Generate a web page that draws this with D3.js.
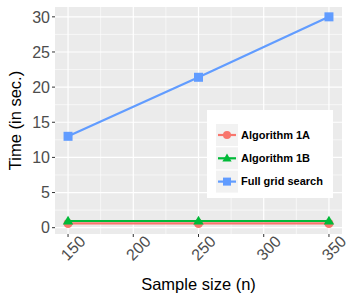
<!DOCTYPE html>
<html><head><meta charset="utf-8">
<script src="https://cdn.jsdelivr.net/npm/d3@7"></script>
<style>body{margin:0;background:#fff}svg{display:block}</style>
</head><body>
<script>
const sampleSizes = [150, 250, 350];
const algo1A = [0.6, 0.6, 0.6];
const algo1B = [0.95, 0.95, 0.95];
const fullGrid = [13, 21.4, 30];
const seriesNames = ["Algorithm 1A", "Algorithm 1B", "Full grid search"];
const xTicks = [150, 200, 250, 300, 350];
const yTicks = [0, 5, 10, 15, 20, 25, 30];

const series = [
  {name: seriesNames[0], values: algo1A, color: "#F8766D", shape: "circle"},
  {name: seriesNames[1], values: algo1B, color: "#00BA38", shape: "triangle"},
  {name: seriesNames[2], values: fullGrid, color: "#619CFF", shape: "square"}
];

const W = 350, H = 300;
const svg = d3.select("body").append("svg").attr("width", W).attr("height", H);
const L = 55, R = 342, T = 7, B = 234;
const FONT = "Liberation Sans, Arial, sans-serif";

const x = d3.scaleLinear().domain([140, 360]).range([L, R]);
const y = d3.scaleLinear().domain([-0.9, 31.4]).range([B, T]);

svg.append("rect").attr("x", L).attr("y", T).attr("width", R - L).attr("height", B - T).attr("fill", "#EBEBEB");

const g = svg.append("g");
const xMinor = [175, 225, 275, 325];
const yMinor = [2.5, 7.5, 12.5, 17.5, 22.5, 27.5];
g.selectAll(".xm").data(xMinor).enter().append("line")
  .attr("x1", d => x(d)).attr("x2", d => x(d)).attr("y1", T).attr("y2", B)
  .attr("stroke", "#fff").attr("stroke-width", 0.6);
g.selectAll(".ym").data(yMinor).enter().append("line")
  .attr("y1", d => y(d)).attr("y2", d => y(d)).attr("x1", L).attr("x2", R)
  .attr("stroke", "#fff").attr("stroke-width", 0.6);
g.selectAll(".xM").data(xTicks).enter().append("line")
  .attr("x1", d => x(d)).attr("x2", d => x(d)).attr("y1", T).attr("y2", B)
  .attr("stroke", "#fff").attr("stroke-width", 1.2);
g.selectAll(".yM").data(yTicks).enter().append("line")
  .attr("y1", d => y(d)).attr("y2", d => y(d)).attr("x1", L).attr("x2", R)
  .attr("stroke", "#fff").attr("stroke-width", 1.2);

svg.selectAll(".yt").data(yTicks).enter().append("line")
  .attr("x1", L - 3).attr("x2", L).attr("y1", d => y(d)).attr("y2", d => y(d))
  .attr("stroke", "#333").attr("stroke-width", 1);
svg.selectAll(".ytl").data(yTicks).enter().append("text")
  .attr("x", L - 5).attr("y", d => y(d)).attr("dy", "0.36em")
  .attr("text-anchor", "end").attr("font-family", FONT)
  .attr("font-size", 16).attr("fill", "#4D4D4D").text(d => d);
svg.selectAll(".xt").data(xTicks).enter().append("line")
  .attr("y1", B).attr("y2", B + 3).attr("x1", d => x(d)).attr("x2", d => x(d))
  .attr("stroke", "#333").attr("stroke-width", 1);
svg.selectAll(".xtl").data(xTicks).enter().append("text")
  .attr("transform", d => `translate(${x(d) + 5},${B + 14}) rotate(-45)`)
  .attr("text-anchor", "middle").attr("dy", "0.35em")
  .attr("font-family", FONT)
  .attr("font-size", 16).attr("fill", "#4D4D4D").text(d => d);

svg.append("text").attr("x", (L + R) / 2).attr("y", 290).attr("text-anchor", "middle")
  .attr("font-family", FONT).attr("font-size", 16.5)
  .attr("fill", "#000").text("Sample size (n)");
svg.append("text").attr("transform", `translate(21,${(T + B) / 2}) rotate(-90)`)
  .attr("text-anchor", "middle")
  .attr("font-family", FONT).attr("font-size", 16.5)
  .attr("fill", "#000").text("Time (in sec.)");

const line = d3.line().x((d, i) => x(sampleSizes[i])).y(d => y(d));
function drawShape(sel, shape, color, cx, cy, s) {
  if (shape === "circle") sel.append("circle").attr("cx", cx).attr("cy", cy).attr("r", s * 0.5).attr("fill", color);
  else if (shape === "square") sel.append("rect").attr("x", cx - s / 2).attr("y", cy - s / 2).attr("width", s).attr("height", s).attr("fill", color);
  else {
    const h = s * 0.95;
    sel.append("path").attr("d", `M${cx},${cy - h * 0.62}L${cx + s * 0.58},${cy + h * 0.42}L${cx - s * 0.58},${cy + h * 0.42}Z`).attr("fill", color);
  }
}
series.forEach(s => {
  svg.append("path").datum(s.values).attr("d", line).attr("fill", "none")
    .attr("stroke", s.color).attr("stroke-width", 2.2);
  s.values.forEach((v, i) => drawShape(svg, s.shape, s.color, x(sampleSizes[i]), y(v), 9));
});

const lg = svg.append("g");
lg.append("rect").attr("x", 207).attr("y", 110).attr("width", 126).attr("height", 88).attr("fill", "#fff");
series.forEach((s, i) => {
  const cy = 135 + i * 23.3;
  lg.append("rect").attr("x", 216).attr("y", cy - 11).attr("width", 22).attr("height", 22).attr("fill", "#F2F2F2");
  lg.append("line").attr("x1", 218).attr("x2", 236).attr("y1", cy).attr("y2", cy).attr("stroke", s.color).attr("stroke-width", 2.2);
  drawShape(lg, s.shape, s.color, 227, cy, 8);
  lg.append("text").attr("x", 241).attr("y", cy).attr("dy", "0.35em")
    .attr("font-family", FONT).attr("font-weight", "bold")
    .attr("font-size", 11).attr("fill", "#000").text(s.name);
});
</script>
</body></html>
